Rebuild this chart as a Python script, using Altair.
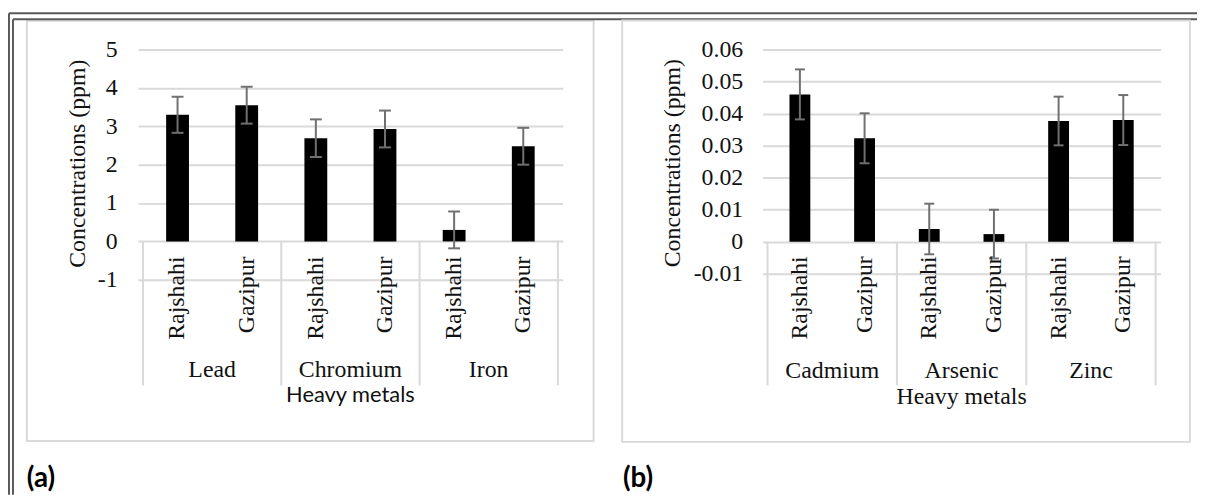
import altair as alt
import pandas as pd

# ---------------- data ----------------
sites = ["Rajshahi", "Gazipur"]

metals_a = ["Lead", "Chromium", "Iron"]
means_a = [3.30, 3.55, 2.69, 2.93, 0.30, 2.48]
errs_a = [0.47, 0.48, 0.49, 0.48, 0.48, 0.48]
yticks_a = [-1, 0, 1, 2, 3, 4, 5]

metals_b = ["Cadmium", "Arsenic", "Zinc"]
means_b = [0.0460, 0.0323, 0.0040, 0.0024, 0.0377, 0.0380]
errs_b = [0.0078, 0.0078, 0.0079, 0.0076, 0.0076, 0.0078]
yticks_b = [-0.01, 0, 0.01, 0.02, 0.03, 0.04, 0.05, 0.06]

y_title = "Concentrations (ppm)"
x_title = "Heavy metals"
panel_labels = ["(a)", "(b)"]

SERIF = "Liberation Serif"
SANS = "Lato"
TXT = "#111111"
GRID = "#d9d9d9"
ERR = "#707070"
FRAME = "#5a5a5a"

one = pd.DataFrame({"k": [0]})


def bars_df(metals, means, errs):
    rows = []
    for gi, m in enumerate(metals):
        for si, s in enumerate(sites):
            i = gi * 2 + si
            rows.append(dict(metal=m, site=s, pos=i + 0.5, mean=means[i],
                             lo=means[i] - errs[i], hi=means[i] + errs[i]))
    return pd.DataFrame(rows)


def panel(metals, means, errs, yticks, fmt_expr, W, H, bar_w, cap_w, lab_pad,
          title_x, title_y, box, xt_y, xt_font, xt_size, group_y, sep_y2, sub_y,
          plabel, plabel_x, plabel_y, frame=False):
    df = bars_df(metals, means, errs)
    n = len(df)
    xs = alt.Scale(domain=[0, n], nice=False, zero=False)
    ys = alt.Scale(domain=[yticks[0], yticks[-1]], nice=False, zero=False)

    yaxis = alt.Axis(values=yticks, tickCount=len(yticks), grid=True, gridColor=GRID,
                     gridWidth=2, domain=False, ticks=False, labelFont=SERIF,
                     labelFontSize=24, labelColor=TXT, labelPadding=lab_pad,
                     labelExpr=fmt_expr, labelOverlap=False, labelFlush=False,
                     title=y_title, titleFont=SERIF, titleFontSize=24,
                     titleFontWeight="normal", titleColor=TXT, titleX=title_x,
                     titleY=title_y, titleAngle=270, titleBaseline="middle",
                     titleAlign="center")

    layers = []
    # chart box
    layers.append(alt.Chart(one).mark_rect(fillOpacity=0, stroke=GRID, strokeWidth=2).encode(
        x=alt.value(box[0]), x2=alt.value(box[1]), y=alt.value(box[2]), y2=alt.value(box[3])))

    bars = alt.Chart(df).mark_bar(size=bar_w, color="black").encode(
        x=alt.X("pos:Q", scale=xs, axis=None),
        y=alt.Y("mean:Q", scale=ys, axis=yaxis),
        y2=alt.datum(0),
    )
    layers.append(bars)

    layers.append(alt.Chart(df).mark_rule(color=ERR, strokeWidth=2).encode(
        x=alt.X("pos:Q", scale=xs, axis=None), y=alt.Y("lo:Q", scale=ys, axis=yaxis), y2="hi:Q"))
    for f in ["lo", "hi"]:
        layers.append(alt.Chart(df).mark_tick(orient="horizontal", size=cap_w, thickness=2,
                                              color=ERR, opacity=1).encode(
            x=alt.X("pos:Q", scale=xs, axis=None), y=alt.Y(f + ":Q", scale=ys, axis=yaxis)))

    # category separators
    sep = pd.DataFrame({"sx": [2 * i for i in range(len(metals) + 1)]})
    layers.append(alt.Chart(sep).mark_rule(color=GRID, strokeWidth=2).encode(
        x=alt.X("sx:Q", scale=xs, axis=None), y=alt.YDatum(0, axis=yaxis), y2=alt.value(sep_y2)))

    # site labels
    layers.append(alt.Chart(df).mark_text(angle=270, align="right", baseline="middle",
                                          font=SERIF, fontSize=24, color=TXT).encode(
        x=alt.X("pos:Q", scale=xs, axis=None), y=alt.value(sub_y), text="site:N"))

    # metal group labels
    grp = pd.DataFrame({"metal": metals, "gx": [2 * i + 1 for i in range(len(metals))]})
    layers.append(alt.Chart(grp).mark_text(baseline="middle", font=SERIF, fontSize=24,
                                           color=TXT).encode(
        x=alt.X("gx:Q", scale=xs, axis=None), y=alt.value(group_y), text="metal:N"))

    # x title
    layers.append(alt.Chart(one).mark_text(baseline="middle", font=xt_font, fontSize=xt_size,
                                           color=TXT).encode(
        x=alt.value(W / 2), y=alt.value(xt_y), text=alt.value(x_title)))

    # panel label
    layers.append(alt.Chart(one).mark_text(align="left", baseline="alphabetic", font=SANS,
                                           fontWeight="bold", fontSize=28, color="black").encode(
        x=alt.value(plabel_x), y=alt.value(plabel_y), text=alt.value(plabel)))

    if frame:
        for (x1, x2, y1, y2) in [(-130, -130, -36.5, 448.5), (-126, -126, -30.5, 448.5),
                                 (-130, 1067, -36.5, -36.5), (-126, 1067, -30.5, -30.5)]:
            if x1 == x2:
                enc = dict(x=alt.value(x1), y=alt.value(y1), y2=alt.value(y2))
            else:
                enc = dict(x=alt.value(x1), x2=alt.value(x2), y=alt.value(y1))
            layers.append(alt.Chart(one).mark_rule(color=FRAME, strokeWidth=2).encode(**enc))

    return alt.layer(*layers).properties(width=W, height=H)


fmt_a = "replace(format(datum.value, 'd'), '\u2212', '-')"
fmt_b = "datum.value == 0 ? '0' : replace(format(datum.value, '.2f'), '\u2212', '-')"

pa = panel(metals_a, means_a, errs_a, yticks_a, fmt_a, W=428, H=232, bar_w=23, cap_w=12,
           lab_pad=21, title_x=-61, title_y=114.5, box=[-112, 459, -29, 394.5],
           xt_y=348, xt_font=SANS, xt_size=22, group_y=322.5, sep_y2=338.5, sub_y=208.5,
           plabel=panel_labels[0], plabel_x=-112, plabel_y=440.5, frame=True)

pb = panel(metals_b, means_b, errs_b, yticks_b, fmt_b, W=401, H=226, bar_w=21, cap_w=10,
           lab_pad=20, title_x=-90.5, title_y=114, box=[-141.5, 430.5, -29.2, 395.3],
           xt_y=350.5, xt_font=SERIF, xt_size=24, group_y=323.5, sep_y2=338.3, sub_y=208.3,
           plabel=panel_labels[1], plabel_x=-140.7, plabel_y=440.3)

chart = alt.hconcat(pa, pb, spacing=201.3, bounds="flush").properties(
    padding={"left": 0, "top": 2, "right": 0, "bottom": 0},
    background="white",
).configure_view(stroke=None)

chart.save("out.html", embed_options={"renderer": "svg", "actions": False})
